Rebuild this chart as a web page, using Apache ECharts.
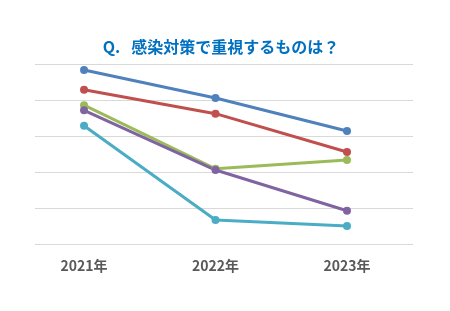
<!DOCTYPE html>
<html><head><meta charset="utf-8">
<script src="https://cdn.jsdelivr.net/npm/echarts@6/dist/echarts.min.js"></script>
<style>html,body{margin:0;padding:0;background:#fff}#c{width:450px;height:311px}</style>
</head><body><div id="c"></div>
<script>
const categories = ['2021年', '2022年', '2023年'];
const seriesBlue = [96.7, 81.1, 62.8];
const seriesRed = [85.7, 72.4, 51.1];
const seriesGreen = [77.1, 41.8, 46.7];
const seriesPurple = [74.3, 41.1, 18.5];
const seriesTeal = [65.7, 13.3, 10.0];
const titleText = 'Q.   感染対策で重視するものは？';

const seriesList = [
  {name: 'A', data: seriesBlue, color: '#4F81BD'},
  {name: 'B', data: seriesRed, color: '#C0504D'},
  {name: 'C', data: seriesGreen, color: '#9BBB59'},
  {name: 'D', data: seriesPurple, color: '#8064A2'},
  {name: 'E', data: seriesTeal, color: '#4BACC6'}
];

const chart = echarts.init(document.getElementById('c'), null, {renderer: 'canvas'});
chart.setOption({
  animation: false,
  title: {
    text: titleText, left: 216, top: 34, textAlign: 'center',
    textStyle: {color: '#0070C0', fontSize: 16, fontWeight: 'bold', fontFamily: 'Noto Sans CJK JP'}
  },
  grid: {left: 35, right: 37, top: 64, bottom: 67},
  xAxis: {
    type: 'value', min: -0.373, max: 2.502,
    axisLine: {show: false}, axisTick: {show: false}, splitLine: {show: false},
    axisLabel: {
      customValues: [0, 1, 2],
      formatter: v => categories[Math.round(v)],
      color: '#595959', fontSize: 14, fontWeight: 'bold', fontFamily: 'Noto Sans CJK JP', margin: 15
    }
  },
  yAxis: {
    type: 'value', min: 0, max: 100, interval: 20,
    axisLabel: {show: false}, axisLine: {show: false}, axisTick: {show: false},
    splitLine: {lineStyle: {color: '#D9D9D9', width: 1}}
  },
  series: seriesList.map(s => ({
    type: 'line', name: s.name,
    data: s.data.map((v, i) => [i, v]),
    symbol: 'circle', symbolSize: 8,
    lineStyle: {color: s.color, width: 3},
    itemStyle: {color: s.color}
  }))
});
</script></body></html>
